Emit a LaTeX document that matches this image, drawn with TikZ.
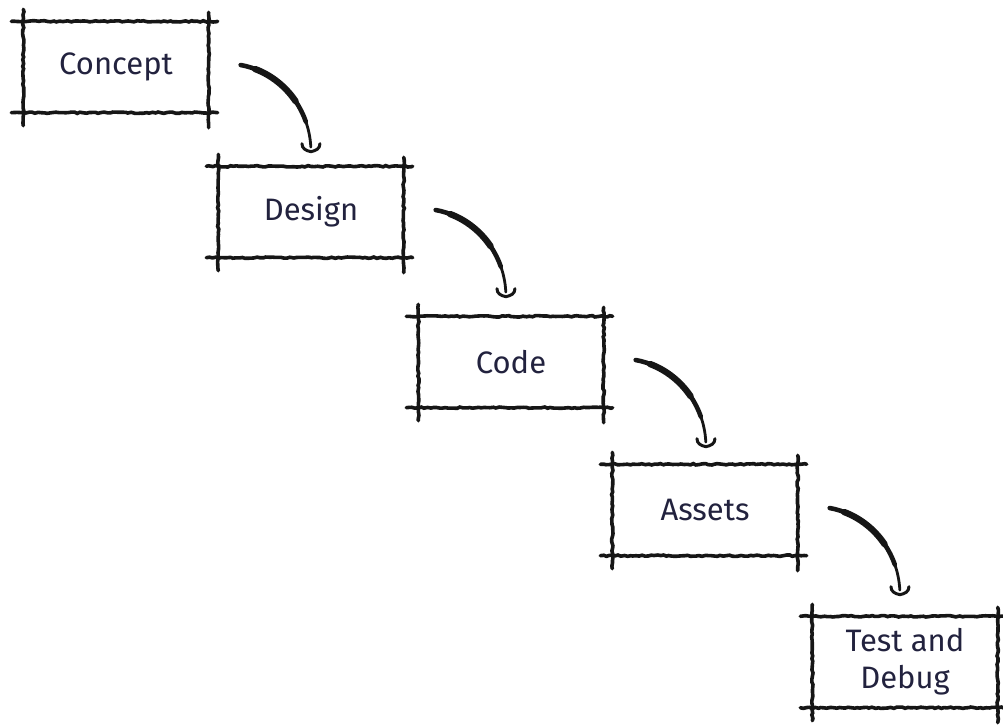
\documentclass[tikz,border=0pt]{standalone}
\usepackage{fontspec}
\setmainfont{Fira Sans}
\usepackage{xcolor}
\usepackage{tikz}
\usetikzlibrary{calc}
\usetikzlibrary{decorations.pathmorphing}
\definecolor{ink}{RGB}{22,22,22}
\definecolor{penblue}{RGB}{34,34,62}

\begin{document}
\begin{tikzpicture}[x=1pt,y=-1pt]

		\tikzstyle{stage}  = [minimum width=185pt, minimum height=91pt, inner sep=0pt, align=center, text=penblue, font=\fontsize{31}{37}\selectfont]
		\tikzstyle{sketch} = [ink, line width=3.6pt, line cap=round, decorate, decoration={random steps, segment length=3pt, amplitude=0.7pt}]
		\tikzstyle{flow}   = [ink, line cap=round, line join=round]
		\tikzstyle{sweep}  = [x radius=85, y radius=88, start angle=-80]
		\useasboundingbox (0,0) rectangle (1003,726);
		\pgfmathsetseed{11}
		%%Stages
		\node [stage](concept) at (116,67) {Concept};
		\node [stage](design) at ($(concept) + (195, 145)$) {Design};
		\node [stage](code) at ($(design) + (200, 150)$) {Code};
		\node [stage](assets) at ($(code) + (194, 148)$) {Assets};
		\node [stage](test) at ($(assets) + (200, 152)$) {Test and\\Debug};
		%%Frames
		\foreach \n in {concept,design,code,assets,test}{
			\draw[sketch] ([xshift=-12pt]\n.north west) -- ([xshift=9pt]\n.north east);
			\draw[sketch] ([xshift=-12pt]\n.south west) -- ([xshift=9pt]\n.south east);
			\draw[sketch] ([yshift=12pt]\n.north west) -- ([yshift=-13pt]\n.south west);
			\draw[sketch] ([yshift=9pt]\n.north east) -- ([yshift=-15pt]\n.south east);
		}
		%%Arrows: one elliptic sweep, thickest in the middle, with a cup-shaped head
		\foreach \a in {concept,design,code,assets}{
			\coordinate (from) at ([xshift=32pt,yshift=2pt]\a.east);
			\coordinate (hub) at ($(from)+({-85*cos(-80)},{-88*sin(-80)})$);
			\coordinate (tip) at ($(hub)+(85,0)$);
			\draw[flow, line width=2.8pt] (from) arc[sweep, end angle=-3];
			\draw[flow, line width=4.6pt] (from) arc[sweep, end angle=-20];
			\draw[flow, line width=6.4pt] ($(hub)+({85*cos(-70)},{88*sin(-70)})$) arc[sweep, start angle=-70, end angle=-35];
			\draw[flow, line width=3pt] ($(tip)+(-9,-8)$) .. controls +(0,5) and +(-5,-1) .. (tip) .. controls +(5,-1) and +(0,5) .. ($(tip)+(9,-8)$);
		}
	\end{tikzpicture}
\end{document}
